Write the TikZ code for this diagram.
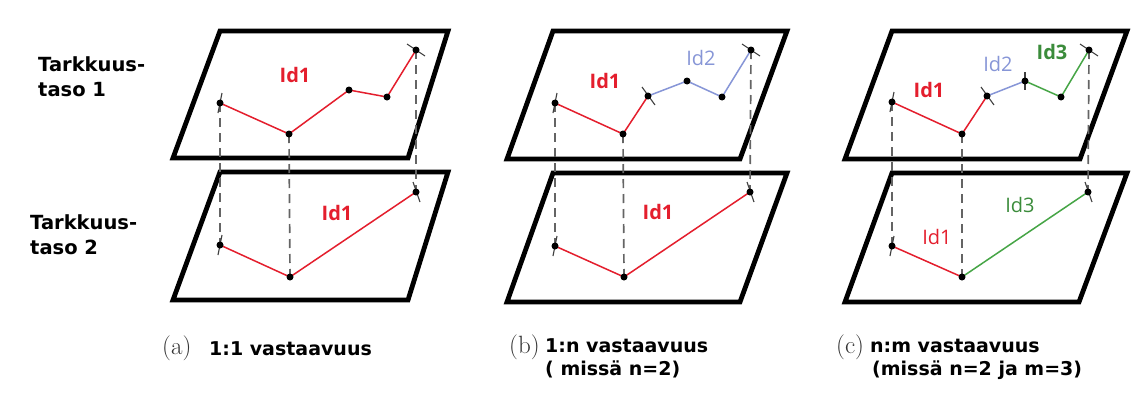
\documentclass[tikz,border=0pt]{standalone}
\usepackage{fontspec}
\newfontfamily\vf{DejaVu Sans}
\newfontfamily\osf{Open Sans}
\definecolor{lred}{RGB}{228,30,45}
\definecolor{lblue}{RGB}{135,150,215}
\definecolor{lgreen}{RGB}{70,165,70}
\definecolor{dgray}{RGB}{100,100,100}
\begin{document}
\begin{tikzpicture}[x=1pt,y=-1pt,
  plane/.style={draw=black,line width=4.8pt,fill=white,line join=miter},
  proj/.style={draw=dgray,line width=1.7pt,dash pattern=on 9pt off 6pt},
  seg/.style={line width=1.5pt},
  dot/.style={circle,fill=black,inner sep=0pt,minimum size=7pt},
  tickmark/.style={draw=black!75,line width=1.1pt},
  side/.style={font=\vf\bfseries\fontsize{19.5}{25}\selectfont,align=left,anchor=north west,inner sep=0pt},
  captxt/.style={font=\vf\bfseries\fontsize{19}{23}\selectfont,align=left,anchor=base west,inner sep=0pt},
  letter/.style={font=\fontsize{25}{27}\selectfont,anchor=base west,inner sep=0pt,text=black!80},
  idb/.style={font=\osf\bfseries\fontsize{20}{22}\selectfont,inner sep=0pt},
  idr/.style={font=\osf\fontsize{20}{22}\selectfont,inner sep=0pt}]
\useasboundingbox (0,0) rectangle (1133,394);

% ---------- planes ----------
\draw[plane] (220,172) -- (448,172) -- (408,300) -- (173,300) -- cycle;
\draw[plane] (220,31) -- (448,31) -- (408,158) -- (173,158) -- cycle;
\draw[plane] (553,173) -- (787,173) -- (740,302) -- (507,302) -- cycle;
\draw[plane] (553,31) -- (787,31) -- (740,159) -- (507,159) -- cycle;
\draw[plane] (892,173) -- (1127,173) -- (1079,302) -- (845,302) -- cycle;
\draw[plane] (892,31) -- (1127,31) -- (1080,159) -- (845,159) -- cycle;

% ---------- points ----------
% (a)
\coordinate (a1) at (220,103); \coordinate (a2) at (289,134); \coordinate (a3) at (349,90);
\coordinate (a4) at (387,97);  \coordinate (a5) at (416,50);
\coordinate (ab1) at (220,245); \coordinate (ab2) at (290,277); \coordinate (ab5) at (416,192);
% (b)
\coordinate (b1) at (555,103); \coordinate (b2) at (623,134); \coordinate (b3) at (648,96);
\coordinate (b4) at (687,81);  \coordinate (b5) at (722,97);  \coordinate (b6) at (751,50);
\coordinate (bb1) at (555,246); \coordinate (bb2) at (624,277); \coordinate (bb6) at (750,192);
% (c)
\coordinate (c1) at (892,102); \coordinate (c2) at (962,134); \coordinate (c3) at (987,96);
\coordinate (c4) at (1025,81); \coordinate (c5) at (1061,97); \coordinate (c6) at (1089,50);
\coordinate (cb1) at (892,246); \coordinate (cb2) at (962,277); \coordinate (cb6) at (1088,192);

% ---------- projection lines ----------
\foreach \t/\b in {a1/ab1,a2/ab2,a5/ab5,b1/bb1,b2/bb2,b6/bb6,c1/cb1,c2/cb2,c6/cb6}
  \draw[proj] (\t) -- (\b);

% ---------- polylines ----------
\draw[seg,lred] (a1) -- (a2) -- (a3) -- (a4) -- (a5);
\draw[seg,lred] (ab1) -- (ab2) -- (ab5);
\draw[seg,lred] (b1) -- (b2) -- (b3);
\draw[seg,lblue] (b3) -- (b4) -- (b5) -- (b6);
\draw[seg,lred] (bb1) -- (bb2) -- (bb6);
\draw[seg,lred] (c1) -- (c2) -- (c3);
\draw[seg,lblue] (c3) -- (c4);
\draw[seg,lgreen] (c4) -- (c5) -- (c6);
\draw[seg,lred] (cb1) -- (cb2);
\draw[seg,lgreen] (cb2) -- (cb6);

% ---------- end ticks ----------
\foreach \p in {a1,ab1,b1,bb1,c1,cb1}
  \draw[tickmark] ([shift={(2,-10)}]\p) -- ([shift={(-2,10)}]\p);
\foreach \p in {a5,b6,c6}
  \draw[tickmark] ([shift={(-9,-6)}]\p) -- ([shift={(9,6)}]\p);
\foreach \p in {ab5,bb6,cb6}
  \draw[tickmark] ([shift={(-3,-10)}]\p) -- ([shift={(4,10)}]\p);
\foreach \p in {b3,c3}
  \draw[tickmark] ([shift={(-6,-9)}]\p) -- ([shift={(7,9)}]\p);
\draw[tickmark] ([shift={(0,-9)}]c4) -- ([shift={(0,9)}]c4);

% ---------- dots ----------
\foreach \p in {a1,a2,a3,a4,a5,ab1,ab2,ab5,b1,b2,b3,b4,b5,b6,bb1,bb2,bb6,c1,c2,c3,c4,c5,c6,cb1,cb2,cb6}
  \node[dot] at (\p) {};

% ---------- Id labels ----------
\node[idb,text=lred] (la1) at (295,75) {Id1};
\node[idb,text=lred] (la2) at (337,213) {Id1};
\node[idb,text=lred] (lb1) at (605,81) {Id1};
\node[idr,text=lblue] (lb2) at (701,58) {Id2};
\node[idb,text=lred] (lb3) at (658,212) {Id1};
\node[idb,text=lred] (lc1) at (929,90) {Id1};
\node[idr,text=lblue] (lc2) at (998,64) {Id2};
\node[idb,text=lgreen!85!black] (lc3) at (1052,52) {Id3};
\node[idr,text=lred] (lc4) at (937,237) {Id1};
\node[idr,text=lgreen!85!black] (lc5) at (1020,205) {Id3};

% ---------- side labels ----------
\node[side] (t1) at (38,56) {Tarkkuus-\\taso 1};
\node[side] (t2) at (30,214) {Tarkkuus-\\taso 2};

% ---------- captions ----------
\node[letter] (ca) at (162,354) {(a)};
\node[captxt] (cta) at (209,355) {1:1 vastaavuus};
\node[letter] (cb) at (509,353) {(b)};
\node[captxt] (ctb) at (545,375) {1:n vastaavuus\\( missä n=2)};
\node[letter] (cc) at (836,353) {(c)};
\node[captxt] (ctc) at (870,375) {n:m vastaavuus\\\hspace*{2pt}(missä n=2 ja m=3)};
\end{tikzpicture}
\end{document}
